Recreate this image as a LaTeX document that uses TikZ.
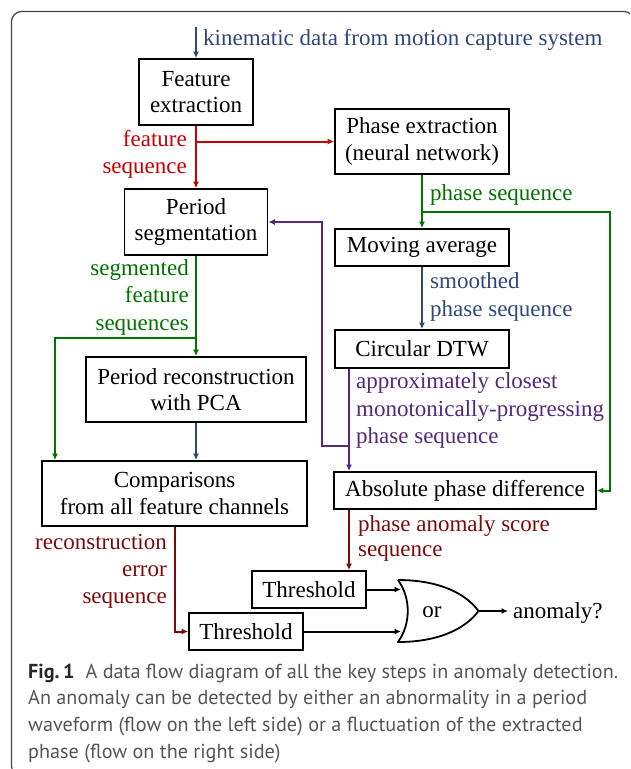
\documentclass[tikz,border=0pt]{standalone}
\usepackage{fontspec}
\setmainfont{Liberation Serif}
\newfontfamily\capfont{PT Sans}
\usetikzlibrary{arrows.meta}
\definecolor{cblue}{RGB}{47,72,122}
\definecolor{cred}{RGB}{200,0,0}
\definecolor{cgreen}{RGB}{0,115,0}
\definecolor{cpurple}{RGB}{85,40,125}
\definecolor{cdred}{RGB}{125,10,10}
\definecolor{capgray}{RGB}{85,85,85}
\definecolor{capdark}{RGB}{40,40,40}
\definecolor{framegray}{RGB}{70,70,70}
\tikzset{
  box/.style={draw=black, line width=1.7pt, fill=white, inner sep=0pt, align=center,
    font=\fontsize{23}{26.7}\selectfont},
  lbl/.style={inner sep=0pt, font=\fontsize{23}{27}\selectfont},
  flow/.style={line width=2pt, -{Latex[length=6.5pt,width=6pt]}},
  captext/.style={inner sep=0pt, anchor=base west, text=capgray, font=\capfont\fontsize{20.2}{24}\selectfont},
}
\begin{document}
\begin{tikzpicture}[x=1pt,y=-1pt]
\useasboundingbox (0,0) rectangle (630,769);
\begin{scope}
\clip (0,0) rectangle (630,769);
\draw[framegray, line width=1.2pt, rounded corners=10pt] (11.5,11.5) rectangle (634,776);
\end{scope}

% boxes
\node[box, minimum width=114, minimum height=66] (fe) at (196,92) {Feature\\extraction};
\node[box, minimum width=174, minimum height=65] (pe) at (422,141.5) {Phase extraction\\(neural network)};
\node[box, minimum width=143, minimum height=66] (ps) at (196,222) {Period\\segmentation};
\node[box, minimum width=174, minimum height=37] (ma) at (422,247.5) {Moving average};
\node[box, minimum width=174, minimum height=38] (cd) at (422,349) {Circular DTW};
\node[box, minimum width=220, minimum height=65] (pr) at (196,389.5) {Period reconstruction\\with PCA};
\node[box, minimum width=265, minimum height=65] (cmp) at (174.5,493.5) {Comparisons\\from all feature channels};
\node[box, minimum width=262, minimum height=37] (apd) at (465,490.5) {Absolute phase difference};
\node[box, minimum width=114, minimum height=37] (t1) at (309,589.5) {Threshold};
\node[box, minimum width=114, minimum height=37] (t2) at (246,631.5) {Threshold};

% input
\coordinate (kin) at (196,27);
\draw[flow, cblue] (kin) -- (fe.north);
\node[lbl, text=cblue, anchor=base west] (kint) at (203,45) {kinematic data from motion capture system};

% feature sequence (red)
\draw[flow, cred] (fe.south) -- (ps.north);
\draw[flow, cred] (fe.south) |- (pe.west);
\node[lbl, text=cred, anchor=base east] (fs1) at (187,146) {feature};
\node[lbl, text=cred, anchor=base east] (fs2) at (187,173) {sequence};

% phase sequence (green)
\coordinate (gr) at (609.5,211.5);
\draw[flow, cgreen] (pe.south) -- (ma.north);
\draw[flow, cgreen] (pe.south) |- (gr) |- (apd.east);
\node[lbl, text=cgreen, anchor=base west] (psq) at (430,200) {phase sequence};

% smoothed (blue)
\draw[flow, cblue] (ma.south) -- (cd.north);
\node[lbl, text=cblue, anchor=base west] (sm1) at (430,288) {smoothed};
\node[lbl, text=cblue, anchor=base west] (sm2) at (430,316.5) {phase sequence};

% purple
\coordinate (pux) at (349,0);
\coordinate (pl) at (321.5,445.5);
\draw[flow, cpurple] (pux |- cd.south) -- (pux |- apd.north);
\draw[flow, cpurple] (pux |- cd.south) |- (pl) |- (ps.east);
\node[lbl, text=cpurple, anchor=base west] (ap1) at (356,388) {approximately closest};
\node[lbl, text=cpurple, anchor=base west] (ap2) at (356,416) {monotonically-progressing};
\node[lbl, text=cpurple, anchor=base west] (ap3) at (356,443) {phase sequence};

% segmented (green)
\coordinate (sl) at (55,337.5);
\draw[flow, cgreen] (ps.south) -- (pr.north);
\draw[flow, cgreen] (ps.south) |- (sl) -- (sl |- cmp.north);
\node[lbl, text=cgreen, anchor=base east] (sg1) at (189,275) {segmented};
\node[lbl, text=cgreen, anchor=base east] (sg2) at (189,302.5) {feature};
\node[lbl, text=cgreen, anchor=base east] (sg3) at (189,330) {sequences};

% PCA -> comparisons
\draw[flow, cblue] (pr.south) -- (pr.south |- cmp.north);

% reconstruction error (dark red)
\draw[flow, cdred] (cmp.south) |- (t2.west);
\node[lbl, text=cdred, anchor=base east] (re1) at (167,549) {reconstruction};
\node[lbl, text=cdred, anchor=base east] (re2) at (167,576) {error};
\node[lbl, text=cdred, anchor=base east] (re3) at (167,603) {sequence};

% phase anomaly score (dark red)
\draw[flow, cdred] (pux |- apd.south) -- (pux |- t1.north);
\node[lbl, text=cdred, anchor=base west] (pa1) at (358,531.7) {phase anomaly score};
\node[lbl, text=cdred, anchor=base west] (pa2) at (358,556.7) {sequence};

% OR gate
\coordinate (gtop) at (398,580);
\coordinate (gbot) at (398,642);
\coordinate (gtip) at (478.5,611);
\draw[line width=1.8pt, line join=round] (gtop) .. controls (440,580) and (466,594) .. (gtip)
  .. controls (466,628) and (440,642) .. (gbot)
  .. controls (411,624) and (411,598) .. (gtop);
\node[lbl, anchor=base] (ortxt) at (432,617) {or};
\coordinate (gin1) at (401,589.5);
\coordinate (gin2) at (401,631.5);
\draw[flow] (t1.east) -- (gin1);
\draw[flow] (t2.east) -- (gin2);
\coordinate (gend) at (508,611);
\draw[flow] (gtip) -- (gend);
\node[lbl, anchor=base west] (anom) at (513,618) {anomaly?};

% caption
\node[captext] (cap1) at (28,678) {\textcolor{capdark}{\textbf{Fig.\,1}}\hspace{0.55em}A data flow diagram of all the key steps in anomaly detection.};
\node[captext] (cap2) at (28,704.7) {An anomaly can be detected by either an abnormality in a period};
\node[captext] (cap3) at (28,731.3) {waveform (flow on the left side) or a fluctuation of the extracted};
\node[captext] (cap4) at (28,758) {phase (flow on the right side)};
\end{tikzpicture}
\end{document}
